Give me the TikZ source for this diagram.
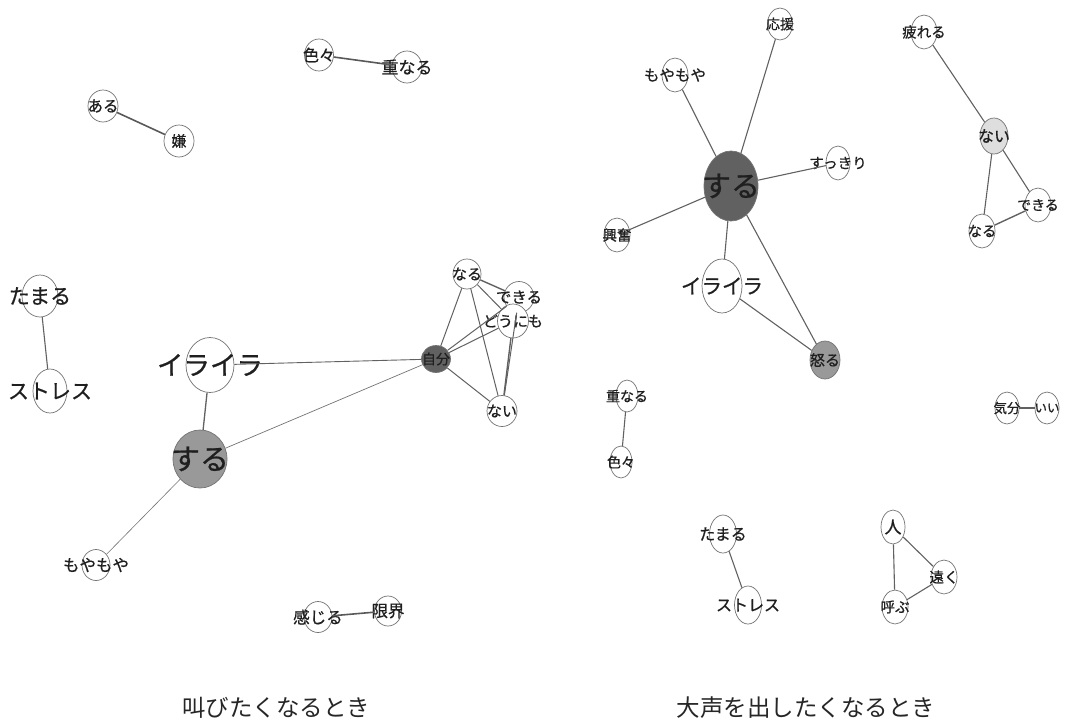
\documentclass[tikz,border=0pt]{standalone}
\usepackage{fontspec}
\setmainfont{Noto Sans CJK JP}
\newfontfamily\lbfont[FakeBold=0.7]{Noto Sans CJK JP}
\usetikzlibrary{shapes.geometric}
\newcommand\fz[1]{\fontsize{#1}{#1}\selectfont}
\tikzset{
  nd/.style={ellipse, draw=black!55, fill=white, inner sep=0pt, line width=0.7pt, text=black!88},
  ed/.style={draw=black!62, line width=1.1pt},
  edthin/.style={draw=black!55, line width=0.7pt},
  edthick/.style={draw=black!65, line width=1.6pt},
  ttl/.style={text=black!85}
}
\newcommand\lb[2]{\makebox[0pt]{\lbfont\fz{#1}#2}}
\begin{document}
\begin{tikzpicture}[x=1pt,y=-1pt]
\useasboundingbox (0,0) rectangle (1073,721);
% ---------- left graph ----------
\node[nd, minimum width=30, minimum height=32] (aru) at (103,106) {\lb{15.5}{ある}};
\node[nd, minimum width=30, minimum height=32] (iya) at (179,141) {\lb{15}{嫌}};
\node[nd, minimum width=29, minimum height=32] (iro) at (319,55) {\lb{16}{色々}};
\node[nd, minimum width=30, minimum height=32] (kasa) at (407,67) {\lb{17}{重なる}};
\node[nd, minimum width=36, minimum height=42] (tama) at (40,296) {\lb{21}{たまる}};
\node[nd, minimum width=34, minimum height=44] (stre) at (50,391) {\lb{21}{ストレス}};
\node[nd, minimum width=48, minimum height=55] (ira) at (210,365) {\lb{26.5}{イライラ}};
\node[nd, minimum width=54, minimum height=58, fill=black!40] (suru) at (200,459) {\lb{29}{する}};
\node[nd, minimum width=29, minimum height=27, fill=black!62] (jibun) at (436,359) {\lb{14}{自分}};
\node[nd, minimum width=28, minimum height=30] (naru) at (467,274) {\lb{15}{なる}};
\node[nd, minimum width=30, minimum height=31] (deki) at (519,297) {\lb{15.5}{できる}};
\node[nd, minimum width=31, minimum height=34] (dou) at (513,321) {\lb{15}{どうにも}};
\node[nd, minimum width=30, minimum height=31] (nai) at (502,411) {\lb{15}{ない}};
\node[nd, minimum width=28, minimum height=31] (moya) at (96,565) {\lb{16.5}{もやもや}};
\node[nd, minimum width=28, minimum height=31] (kanj) at (318,617) {\lb{16.5}{感じる}};
\node[nd, minimum width=27, minimum height=30] (gen) at (388,611) {\lb{16.5}{限界}};
\node[ttl] (t1) at (276,708) {\fz{23.5}叫びたくなるとき};
\draw[edthick] (aru) -- (iya);
\draw[edthick] (iro) -- (kasa);
\draw[ed] (tama) -- (stre);
\draw[ed, line width=1.3pt] (ira) -- (suru);
\draw[ed, line width=0.9pt] (ira) -- (jibun);
\draw[edthin] (suru) -- (jibun);
\draw[edthin, line width=0.6pt] (suru) -- (moya);
\draw[ed, line width=1pt] (jibun) -- (naru);
\draw[ed, line width=1pt] (jibun) -- (deki);
\draw[ed, line width=1pt] (jibun) -- (dou);
\draw[ed, line width=1pt] (jibun) -- (nai);
\draw[ed, line width=1.4pt] (naru) -- (deki);
\draw[ed, line width=1pt] (naru) -- (dou);
\draw[ed, line width=1pt] (naru) -- (nai);
\draw[ed, line width=1pt] (deki) -- (nai);
\draw[ed, line width=1.4pt] (dou) -- (nai);
\draw[edthick] (kanj) -- (gen);
% ---------- right graph ----------
\node[nd, minimum width=25, minimum height=32] (ouen) at (780,24) {\lb{14}{応援}};
\node[nd, minimum width=26, minimum height=34] (moya2) at (675,75) {\lb{15.5}{もやもや}};
\node[nd, minimum width=54, minimum height=70, fill=black!62] (suru2) at (731,186) {\lb{29}{する}};
\node[nd, minimum width=24, minimum height=34] (sukki) at (838,163) {\lb{14.5}{すっきり}};
\node[nd, minimum width=26, minimum height=34] (kofun) at (617,235) {\lb{14.5}{興奮}};
\node[nd, minimum width=40, minimum height=54] (ira2) at (722,286) {\lb{20.5}{イライラ}};
\node[nd, minimum width=30, minimum height=38, fill=black!40] (ikaru) at (825,360) {\lb{15}{怒る}};
\node[nd, minimum width=26, minimum height=34] (tsuka) at (924,32) {\lb{14.5}{疲れる}};
\node[nd, minimum width=28, minimum height=36, fill=black!13] (nai2) at (994,136) {\lb{16}{ない}};
\node[nd, minimum width=26, minimum height=34] (deki2) at (1038,205) {\lb{14}{できる}};
\node[nd, minimum width=26, minimum height=34] (naru2) at (982,231) {\lb{14.5}{なる}};
\node[nd, minimum width=22, minimum height=32] (kasa2) at (627,396) {\lb{14}{重なる}};
\node[nd, minimum width=22, minimum height=32] (iro2) at (621,462) {\lb{14}{色々}};
\node[nd, minimum width=24, minimum height=32] (kibun) at (1007,408) {\lb{13.5}{気分}};
\node[nd, minimum width=24, minimum height=32] (ii) at (1047,408) {\lb{12.5}{いい}};
\node[nd, minimum width=27, minimum height=38] (tama2) at (723,534) {\lb{16}{たまる}};
\node[nd, minimum width=27, minimum height=38] (stre2) at (748,605) {\lb{16}{ストレス}};
\node[nd, minimum width=24, minimum height=34] (hito) at (893,527) {\lb{17}{人}};
\node[nd, minimum width=26, minimum height=34] (tooku) at (944,577) {\lb{14.5}{遠く}};
\node[nd, minimum width=26, minimum height=34] (yobu) at (895,607) {\lb{14.5}{呼ぶ}};
\node[ttl] (t2) at (806,708) {\fz{23.5}大声を出したくなるとき};
\draw[ed] (suru2) -- (ouen);
\draw[ed] (suru2) -- (moya2);
\draw[ed] (suru2) -- (sukki);
\draw[ed] (suru2) -- (kofun);
\draw[ed] (suru2) -- (ira2);
\draw[ed] (suru2) -- (ikaru);
\draw[ed] (ira2) -- (ikaru);
\draw[ed] (tsuka) -- (nai2);
\draw[ed] (nai2) -- (naru2);
\draw[ed] (nai2) -- (deki2);
\draw[ed, line width=1.4pt] (naru2) -- (deki2);
\draw[ed] (kasa2) -- (iro2);
\draw[ed] (kibun) -- (ii);
\draw[ed] (tama2) -- (stre2);
\draw[ed] (hito) -- (tooku);
\draw[ed] (hito) -- (yobu);
\draw[ed] (yobu) -- (tooku);
\end{tikzpicture}
\end{document}
